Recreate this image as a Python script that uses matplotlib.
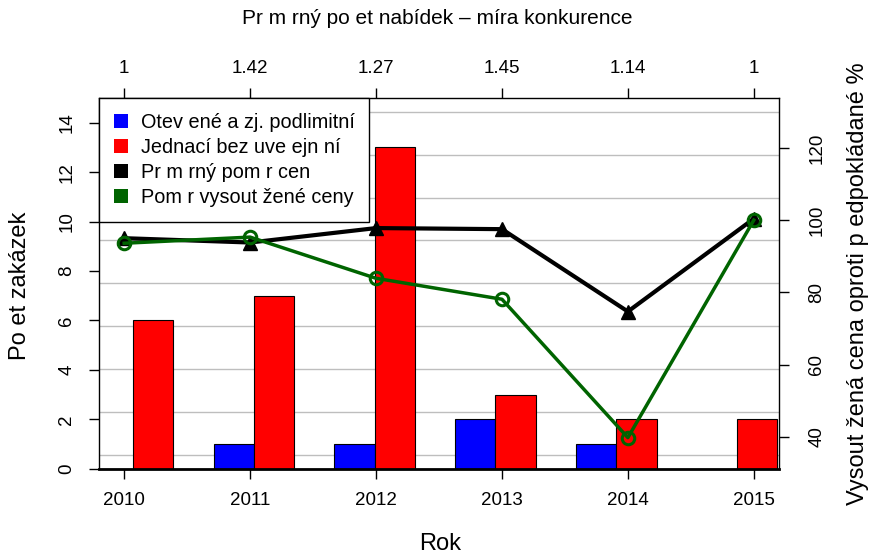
import matplotlib
matplotlib.use("Agg")
import matplotlib.pyplot as plt
from matplotlib.patches import Patch
import matplotlib.transforms as mtransforms

plt.rcParams['font.family'] = ['Liberation Sans', 'DejaVu Sans']

# ---- data ----
years = [2010, 2011, 2012, 2013, 2014, 2015]
otevrene = [0, 1, 1, 2, 1, 0]          # blue bars
jednaci = [6, 7, 13, 3, 2, 2]           # red bars
prumerny_pomer = [95.0, 93.8, 97.8, 97.5, 74.7, 100.4]   # black line (%)
pomer_vysout = [93.6, 95.3, 83.9, 78.1, 39.8, 100.0]     # green line (%)
nabidky_labels = ["1", "1.42", "1.27", "1.45", "1.14", "1"]
legend_labels = ["Otev ené a zj. podlimitní", "Jednací bez uve ejn ní",
                 "Pr m rný pom r cen", "Pom r vysout žené ceny"]
grid_levels = [35, 46.875, 58.75, 70.625, 82.5, 94.375, 106.25, 118.125, 130]

W, H = 872, 559
fig = plt.figure(figsize=(W / 100, H / 100), dpi=100)
L, R, T, B = 99, 779, 98, 468.7
pos = [L / W, 1 - B / H, (R - L) / W, (B - T) / H]

FS = 13.5      # tick labels
FS_LEG = 14.3
FS_TITLE = 15
FS_LAB = 17

# bar axes
ax = fig.add_axes(pos)
ax.set_xlim(1.156, 18.04)
ax.set_ylim(0, 15)

# line axes
ax2 = fig.add_axes(pos, frameon=False)
ax2.patch.set_visible(False)
ax2.set_xlim(2009.8, 2015.2)
ax2.set_ylim(31.2, 133.8)

# grid (right scale) behind bars
blend = mtransforms.blended_transform_factory(ax.transAxes, ax2.transData)
for g in grid_levels:
    ax.plot([0, 1], [g, g], transform=blend, color='#bebebe', lw=1.0, zorder=0)

n = len(years)
blue_x = [1 + 3 * i for i in range(n)]
red_x = [2 + 3 * i for i in range(n)]
ax.bar(blue_x, otevrene, width=1, align='edge', color='#0000ff',
       edgecolor='black', linewidth=0.8, zorder=2)
ax.bar(red_x, jednaci, width=1, align='edge', color='#ff0000',
       edgecolor='black', linewidth=0.8, zorder=2)

# lines
ax2.plot(years, prumerny_pomer, color='black', lw=3, marker='^',
         markersize=10, zorder=3)
ax2.plot(years, pomer_vysout, color='#006400', lw=2.5, marker='o',
         markersize=9, markerfacecolor='none', markeredgewidth=2.2, zorder=4)

# spines / ticks
for s in ax.spines.values():
    s.set_linewidth(1.0)
ax.spines['bottom'].set_linewidth(2.0)
ax.set_xticks([])
ax.set_yticks(range(0, 15, 2))
ax.set_yticklabels([str(v) for v in range(0, 15, 2)], rotation=90,
                   va='center', fontsize=FS)
ax.tick_params(axis='y', length=7, width=1, pad=10)

ax2.yaxis.tick_right()
ax2.set_yticks([40, 60, 80, 100, 120])
ax2.set_yticklabels(['40', '60', '80', '100', '120'], rotation=90,
                    va='center', fontsize=FS)
ax2.tick_params(axis='y', length=7, width=1, pad=14)
ax2.set_xticks(years)
ax2.set_xticklabels([str(y) for y in years], fontsize=FS)
ax2.tick_params(axis='x', length=7, width=1, pad=10)

top = ax2.secondary_xaxis('top')
top.set_xticks(years)
top.set_xticklabels(nabidky_labels, fontsize=FS)
top.tick_params(axis='x', length=7, width=1, pad=8)
top.spines['top'].set_visible(False)

# axis titles
fig.text(440 / W, 1 - 544 / H, "Rok", ha='center', va='center', fontsize=FS_LAB)
fig.text(437.5 / W, 1 - 18 / H, "Pr m rný po et nabídek – míra konkurence",
         ha='center', va='center', fontsize=FS_TITLE)
fig.text(20 / W, 1 - 286 / H, "Po et zakázek", rotation=90,
         ha='center', va='center', fontsize=FS_LAB)
fig.text(858 / W, 1 - 284 / H, "Vysout žená cena oproti p edpokládané %",
         rotation=90, ha='center', va='center', fontsize=FS_LAB)

# legend
handles = [Patch(facecolor='#0000ff', edgecolor='none'),
           Patch(facecolor='#ff0000', edgecolor='none'),
           Patch(facecolor='black', edgecolor='none'),
           Patch(facecolor='#006400', edgecolor='none')]
leg = ax2.legend(handles, legend_labels, loc='upper left',
                 bbox_to_anchor=(0, 1), borderaxespad=0, fancybox=False,
                 framealpha=1, edgecolor='black', fontsize=FS_LEG,
                 handlelength=0.7, handleheight=0.7, handletextpad=0.65,
                 labelspacing=0.3, borderpad=0.75)
leg.get_frame().set_linewidth(1.0)
leg.set_zorder(10)

fig.savefig("out.png", dpi=100)
